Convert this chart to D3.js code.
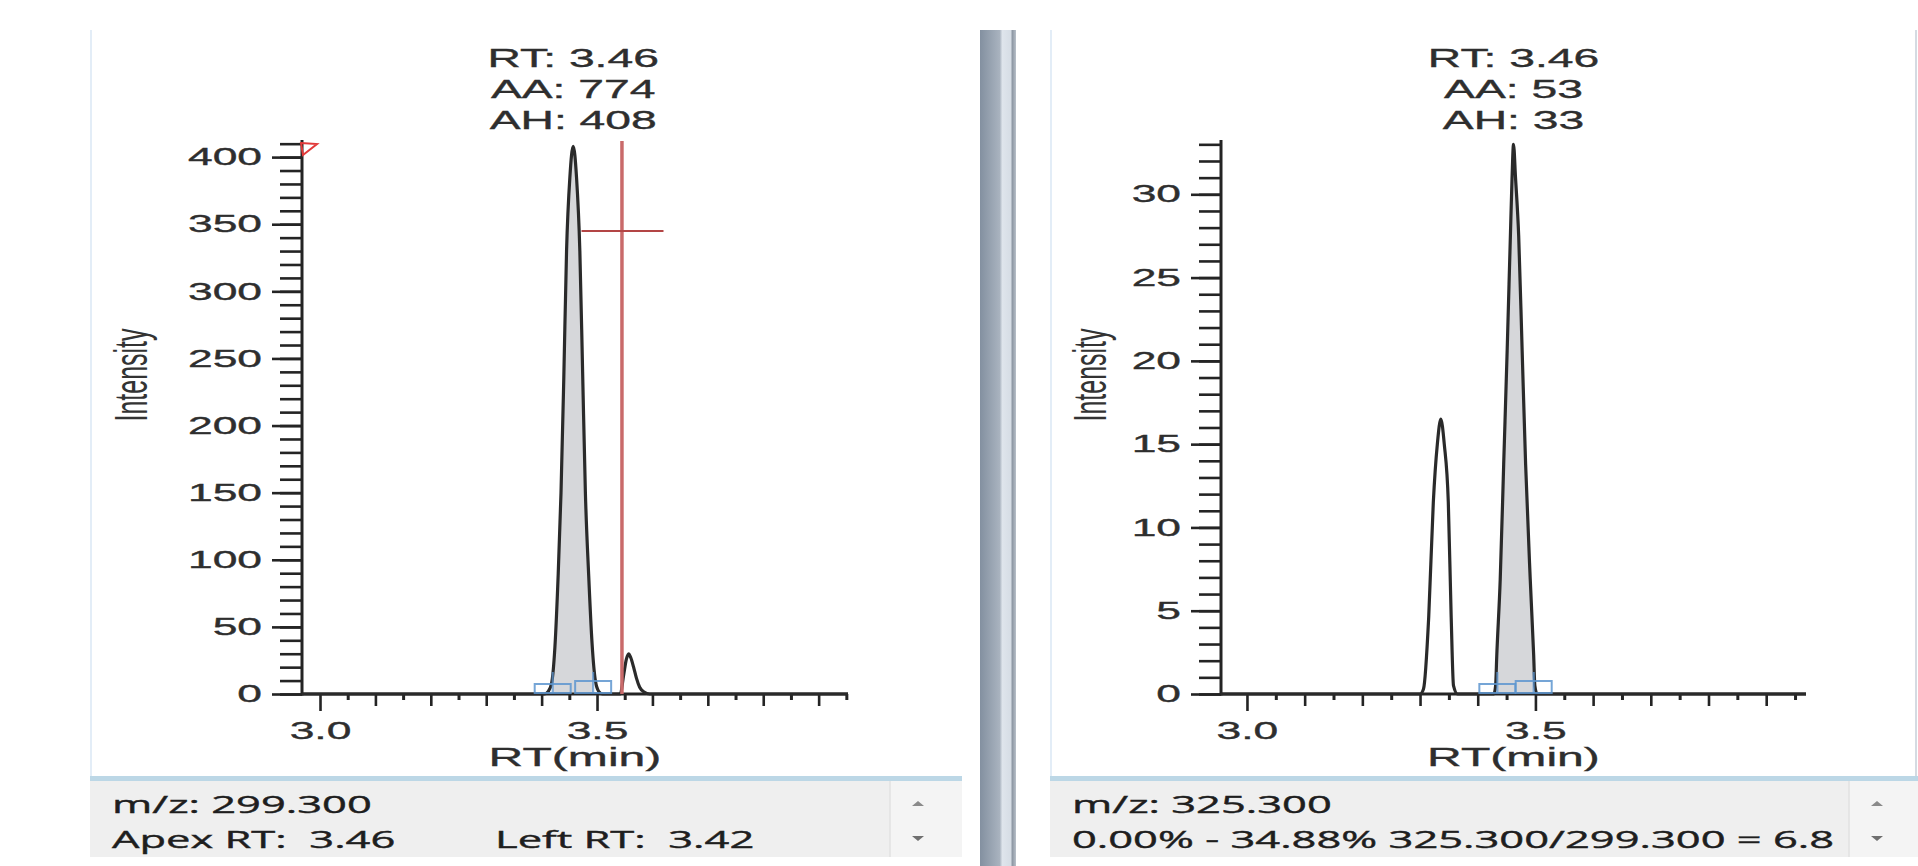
<!DOCTYPE html>
<html>
<head>
<meta charset="utf-8">
<script src="https://cdn.jsdelivr.net/npm/d3@7"></script>
<style>
  html, body { margin: 0; padding: 0; background: #fff; }
  svg { display: block; }
  text { white-space: pre; }
</style>
</head>
<body>
<div id="chart"></div>
<script>
// traces: [RT (min), intensity]
const traceA = [
  [2.9675, 0], [3.405, 0], [3.412, 2], [3.418, 8], [3.424, 35], [3.430, 90], [3.435, 150],
  [3.440, 235], [3.445, 330], [3.451, 385], [3.457, 408], [3.463, 385], [3.469, 330],
  [3.474, 240], [3.479, 150], [3.485, 88], [3.491, 38], [3.497, 10], [3.503, 2], [3.51, 0],
  [3.542, 0], [3.548, 14], [3.553, 26], [3.557, 30], [3.561, 27], [3.566, 20], [3.571, 12],
  [3.577, 5], [3.585, 1.5], [3.595, 0], [3.953, 0]
];
const traceB = [
  [2.955, 0], [3.300, 0], [3.306, 0.3], [3.315, 4.6], [3.323, 11.5], [3.330, 15], [3.336, 16.5],
  [3.342, 15], [3.349, 11.5], [3.354, 4.6], [3.358, 0.5], [3.365, 0],
  [3.428, 0], [3.431, 0.5], [3.433, 2.3], [3.439, 6.9], [3.445, 13.8], [3.451, 20.6],
  [3.4566, 27.5], [3.4595, 31], [3.462, 33], [3.4655, 31], [3.471, 27.5], [3.477, 20.6],
  [3.483, 13.8], [3.491, 6.9], [3.497, 2.3], [3.499, 0.5], [3.503, 0], [3.969, 0]
];

// integration start / end
const boundsA = [3.42, 3.493];
const boundsB = [3.434, 3.497];

// red cursor (left panel only)
const cursorA = { rt: 3.545, level: 345, span: [3.472, 3.62] };

const yTicksA = [0, 50, 100, 150, 200, 250, 300, 350, 400];
const yTicksB = [0, 5, 10, 15, 20, 25, 30];
const xTickLabels = [3.0, 3.5];
const xMidTicks = [3.1, 3.2, 3.3, 3.4, 3.6, 3.7, 3.8, 3.9];
const xSmallTicks = [3.05, 3.15, 3.25, 3.35, 3.45, 3.55, 3.65, 3.75, 3.85, 3.95];

const titleA = ["RT: 3.46", "AA: 774", "AH: 408"];
const titleB = ["RT: 3.46", "AA: 53", "AH: 33"];
const infoA = ["m/z: 299.300", "Apex RT:  3.46", "Left RT:  3.42"];
const infoB = ["m/z: 325.300", "0.00% - 34.88% 325.300/299.300 = 6.8"];

const W = 1918, H = 866;
const SX = 1.85;          // the screenshot is stretched sideways
const baseY = 694, topY = 141;
const ink = "#242424";
const chartFont = "'Liberation Sans', Arial, sans-serif";

const panels = [
  { name: 'A', trace: traceA, bounds: boundsA, cursor: cursorA, yTicks: yTicksA, yMinor: d3.range(0, 411, 10),
    yMax: 412, xDomain: [2.9675, 3.953], x0: 302, x1: 848, yLabelX: 131, title: titleA, info: infoA,
    boxX: 90, boxW: 872, scrollX: 890, flag: true },
  { name: 'B', trace: traceB, bounds: boundsB, cursor: null, yTicks: yTicksB, yMinor: d3.range(0, 34, 1),
    yMax: 33.2, xDomain: [2.955, 3.969], x0: 1221, x1: 1806, yLabelX: 1090, title: titleB, info: infoB,
    boxX: 1050, boxW: 868, scrollX: 1849, flag: false }
];

const svg = d3.select("#chart").append("svg")
  .attr("width", W)
  .attr("height", H)
  .style("font-family", chartFont);

const grad = svg.append("defs").append("linearGradient").attr("id", "divider");
grad.append("stop").attr("offset", "0%").attr("stop-color", "#8390a0");
grad.append("stop").attr("offset", "55%").attr("stop-color", "#a9b3bf");
grad.append("stop").attr("offset", "62%").attr("stop-color", "#dfe5ec");
grad.append("stop").attr("offset", "85%").attr("stop-color", "#d6dde5");
grad.append("stop").attr("offset", "90%").attr("stop-color", "#8f99a5");
grad.append("stop").attr("offset", "100%").attr("stop-color", "#b8c0c9");

// splitter between the two panes
svg.append("rect")
  .attr("x", 980).attr("y", 30)
  .attr("width", 36).attr("height", H - 30)
  .attr("fill", "url(#divider)");

// right window edge
svg.append("line")
  .attr("x1", 1916).attr("x2", 1916)
  .attr("y1", 30).attr("y2", 776)
  .attr("stroke", "#d5dbe2").attr("stroke-width", 2);

function stext(sel, str, x, y, anchor) {
  return sel.append("text")
    .attr("transform", `translate(${x},${y}) scale(${SX},1)`)
    .attr("text-anchor", anchor || "start")
    .text(str);
}

function valueAt(trace, rt) {
  const i = d3.bisector(d => d[0]).right(trace, rt);
  const a = trace[i - 1], b = trace[i];
  return a[1] + (b[1] - a[1]) * (rt - a[0]) / (b[0] - a[0]);
}

panels.forEach(drawPanel);

function drawPanel(p) {
  const g = svg.append("g").attr("class", "chart chart-" + p.name);

  const x = d3.scaleLinear().domain(p.xDomain).range([p.x0, p.x1]);
  const y = d3.scaleLinear().domain([0, p.yMax]).range([baseY, topY]);

  // faint pane edge
  g.append("line")
    .attr("x1", p.boxX + 1).attr("x2", p.boxX + 1)
    .attr("y1", 30).attr("y2", 778)
    .attr("stroke", "#e3edf7").attr("stroke-width", 2);

  // integrated area
  const [b0, b1] = p.bounds;
  const inside = [[b0, valueAt(p.trace, b0)]]
    .concat(p.trace.filter(d => d[0] > b0 && d[0] < b1))
    .concat([[b1, valueAt(p.trace, b1)]]);

  g.append("path")
    .datum(inside)
    .attr("fill", "#d6d7da")
    .attr("d", d3.area()
      .x(d => x(d[0]))
      .y0(y(0))
      .y1(d => y(d[1]))
      .curve(d3.curveMonotoneX));

  // y axis: minor + labelled ticks
  g.append("g")
    .attr("transform", `translate(${p.x0},0)`)
    .call(d3.axisLeft(y).tickValues(p.yMinor).tickSize(22).tickFormat(""))
    .call(a => a.select(".domain").remove())
    .call(a => a.selectAll("line").attr("stroke", ink).attr("stroke-width", 2.6));

  g.append("g")
    .attr("transform", `translate(${p.x0},0)`)
    .call(d3.axisLeft(y).tickValues(p.yTicks).tickSize(30).tickPadding(10).tickFormat(d3.format("d")))
    .call(a => a.select(".domain").remove())
    .call(a => a.selectAll("line").attr("stroke", ink).attr("stroke-width", 2.6))
    .call(a => a.selectAll("text")
      .attr("x", -40 / SX)
      .attr("transform", `scale(${SX},1)`)
      .attr("fill", "#2e2e2e")
      .attr("stroke", "#2e2e2e")
      .attr("stroke-width", 0.35)
      .attr("font-size", 24)
      .attr("font-family", chartFont));

  // x axis ticks
  g.append("g")
    .attr("transform", `translate(0,${baseY})`)
    .call(d3.axisBottom(x).tickValues(xSmallTicks).tickSize(6).tickFormat(""))
    .call(a => a.select(".domain").remove())
    .call(a => a.selectAll("line").attr("stroke", ink).attr("stroke-width", 3));

  g.append("g")
    .attr("transform", `translate(0,${baseY})`)
    .call(d3.axisBottom(x).tickValues(xMidTicks).tickSize(12).tickFormat(""))
    .call(a => a.select(".domain").remove())
    .call(a => a.selectAll("line").attr("stroke", ink).attr("stroke-width", 2.6));

  g.append("g")
    .attr("transform", `translate(0,${baseY})`)
    .call(d3.axisBottom(x).tickValues(xTickLabels).tickSize(17).tickPadding(11).tickFormat(d3.format(".1f")))
    .call(a => a.select(".domain").remove())
    .call(a => a.selectAll("line").attr("stroke", ink).attr("stroke-width", 2.6))
    .call(a => a.selectAll("text")
      .attr("transform", `scale(${SX},1)`)
      .attr("fill", "#2e2e2e")
      .attr("stroke", "#2e2e2e")
      .attr("stroke-width", 0.35)
      .attr("font-size", 24)
      .attr("font-family", chartFont));

  // axis lines
  g.append("line")
    .attr("x1", p.x0).attr("x2", p.x0)
    .attr("y1", topY - 1).attr("y2", baseY + 1.5)
    .attr("stroke", ink).attr("stroke-width", 3);
  g.append("line")
    .attr("x1", p.x0).attr("x2", p.x1)
    .attr("y1", baseY).attr("y2", baseY)
    .attr("stroke", ink).attr("stroke-width", 3);

  // chromatogram
  g.append("path")
    .datum(p.trace)
    .attr("fill", "none")
    .attr("stroke", "#2a2a2a")
    .attr("stroke-width", 3.2)
    .attr("stroke-linejoin", "round")
    .attr("d", d3.line()
      .x(d => x(d[0]))
      .y(d => y(d[1]))
      .curve(d3.curveMonotoneX));

  // peak start / end markers
  p.bounds.forEach((b, i) => {
    g.append("line")
      .attr("x1", x(b)).attr("x2", x(b))
      .attr("y1", baseY - 1).attr("y2", baseY - 22)
      .attr("stroke", "#5d95cf").attr("stroke-width", 2.2).attr("opacity", 0.75);
    g.append("rect")
      .attr("x", x(b) - 18).attr("y", baseY - (i ? 13 : 10))
      .attr("width", 36).attr("height", i ? 12 : 9)
      .attr("fill", "none")
      .attr("stroke", "#5d95cf").attr("stroke-width", 2)
      .attr("opacity", 0.85);
  });

  // cursor
  if (p.cursor) {
    g.append("line")
      .attr("x1", x(p.cursor.rt)).attr("x2", x(p.cursor.rt))
      .attr("y1", topY).attr("y2", baseY)
      .attr("stroke", "#c96a6a").attr("stroke-width", 3.5);
    g.append("line")
      .attr("x1", x(p.cursor.span[0])).attr("x2", x(p.cursor.span[1]))
      .attr("y1", y(p.cursor.level)).attr("y2", y(p.cursor.level))
      .attr("stroke", "#b34545").attr("stroke-width", 2);
  }

  if (p.flag) {
    g.append("path")
      .attr("d", `M${p.x0 - 1},${topY + 2}L${p.x0 + 15},${topY + 3}L${p.x0 + 1},${topY + 14}Z`)
      .attr("fill", "none")
      .attr("stroke", "#e23a3a")
      .attr("stroke-width", 2);
  }

  // peak label
  const apex = d3.greatest(p.trace, d => d[1]);
  const title = g.append("g")
    .attr("fill", "#2e2e2e")
    .attr("stroke", "#2e2e2e")
    .attr("stroke-width", 0.35)
    .attr("font-size", 25);
  p.title.forEach((t, i) => stext(title, t, x(apex[0]), 67 + i * 31, "middle"));

  // axis titles
  stext(g, "RT(min)", (p.x0 + p.x1) / 2, 766, "middle")
    .attr("fill", "#2e2e2e")
    .attr("stroke", "#2e2e2e")
    .attr("stroke-width", 0.35)
    .attr("font-size", 26);

  g.append("text")
    .attr("transform", `translate(${p.yLabelX},375) scale(${SX},1) rotate(-90)`)
    .attr("text-anchor", "middle")
    .attr("dy", "0.35em")
    .attr("fill", "#333")
    .attr("font-size", 25)
    .text("Intensity");

  // info strip under the plot
  g.append("rect")
    .attr("x", p.boxX).attr("y", 780)
    .attr("width", p.boxW).attr("height", 77)
    .attr("fill", "#efefef");
  g.append("rect")
    .attr("x", p.boxX).attr("y", 776)
    .attr("width", p.boxW).attr("height", 5)
    .attr("fill", "#bcd7e6");
  g.append("rect")
    .attr("x", p.scrollX).attr("y", 781)
    .attr("width", p.boxX + p.boxW - p.scrollX).attr("height", 76)
    .attr("fill", "#f4f4f4");
  g.append("line")
    .attr("x1", p.scrollX).attr("x2", p.scrollX)
    .attr("y1", 781).attr("y2", 857)
    .attr("stroke", "#e2e2e2").attr("stroke-width", 1.5);

  const ax = p.scrollX + 28;
  g.append("path")
    .attr("d", `M${ax - 6},806L${ax},801L${ax + 6},806Z`)
    .attr("fill", "#8a8a8a");
  g.append("path")
    .attr("d", `M${ax - 6},836L${ax},841L${ax + 6},836Z`)
    .attr("fill", "#6f6f6f");

  const info = g.append("g")
    .attr("fill", "#1e1e1e")
    .attr("stroke", "#1e1e1e")
    .attr("stroke-width", 0.4)
    .attr("font-size", 23.5)
    .style("font-family", "'Open Sans', 'Noto Sans', sans-serif");
  stext(info, p.info[0], p.boxX + 22, 813);
  stext(info, p.info[1], p.boxX + 22, 848);
  if (p.info[2]) stext(info, p.info[2], p.boxX + 405, 848);
}
</script>
</body>
</html>
